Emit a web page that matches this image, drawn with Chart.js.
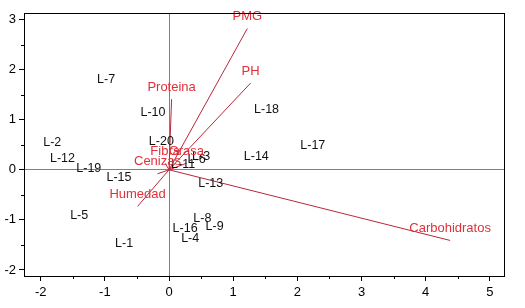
<!DOCTYPE html>
<html>
<head>
<meta charset="utf-8">
<script src="https://cdn.jsdelivr.net/npm/chart.js@4"></script>
<style>
  html, body { margin: 0; padding: 0; background: #fff; }
  #wrap { width: 525px; height: 308px; }
</style>
</head>
<body>
<div id="wrap"><canvas id="biplot"></canvas></div>
<script>
// Observaciones (lotes)
const lotes = ['L-1', 'L-2', 'L-3', 'L-4', 'L-5', 'L-6', 'L-7', 'L-8', 'L-9', 'L-10',
               'L-11', 'L-12', 'L-13', 'L-14', 'L-15', 'L-16', 'L-17', 'L-18', 'L-19', 'L-20'];
const loteX = [-0.70, -1.82, 0.50, 0.33, -1.40, 0.43, -0.98, 0.52, 0.71, -0.25,
               0.22, -1.66, 0.65, 1.36, -0.78, 0.25, 2.24, 1.52, -1.25, -0.12];
const loteY = [-1.48, 0.54, 0.27, -1.38, -0.92, 0.20, 1.81, -0.98, -1.13, 1.14,
               0.11, 0.23, -0.28, 0.26, -0.15, -1.18, 0.48, 1.20, 0.03, 0.56];

// Variables (vectores)
const variables = ['PMG', 'PH', 'Proteina', 'Fibra', 'Grasa', 'Cenizas', 'Humedad', 'Carbohidratos'];
const varX = [1.22, 1.27, 0.04, -0.06, 0.27, -0.18, -0.49, 4.38];
const varY = [2.82, 1.73, 1.41, 0.13, 0.13, -0.08, -0.73, -1.41];

// Ticks
const xTicks = [-2, -1.5, -1, -0.5, 0, 0.5, 1, 1.5, 2, 2.5, 3, 3.5, 4, 4.5, 5];
const yTicks = [-2, -1.5, -1, -0.5, 0, 0.5, 1, 1.5, 2, 2.5, 3];

const lineRed = '#b8263a';
const textRed = '#e0313a';
const font = 'Arial, "Liberation Sans", sans-serif';

const arrowSets = variables.map((v, i) => ({
  label: v,
  data: [{x: 0, y: 0}, {x: varX[i], y: varY[i]}],
  showLine: true,
  borderColor: lineRed,
  borderWidth: 1,
  pointRadius: 0,
  fill: false
}));

// Etiquetas de puntos y vectores, marco y ticks menores
const labelsPlugin = {
  id: 'labels',
  afterDatasetsDraw(chart) {
    const {ctx, scales: {x, y}, chartArea} = chart;
    ctx.save();
    ctx.textAlign = 'center';
    ctx.textBaseline = 'middle';
    ctx.font = '12.5px ' + font;
    ctx.fillStyle = '#111';
    lotes.forEach((l, i) => {
      ctx.fillText(l, x.getPixelForValue(loteX[i]), y.getPixelForValue(loteY[i]));
    });
    ctx.font = '13px ' + font;
    ctx.fillStyle = textRed;
    variables.forEach((v, i) => {
      ctx.fillText(v, x.getPixelForValue(varX[i]), y.getPixelForValue(varY[i]) - 12);
    });
    ctx.strokeStyle = '#000';
    ctx.lineWidth = 1;
    ctx.strokeRect(chartArea.left + 0.5, chartArea.top + 0.5,
                   chartArea.right - chartArea.left, chartArea.bottom - chartArea.top);
    // ticks menores (más cortos)
    ctx.beginPath();
    xTicks.filter(v => !Number.isInteger(v)).forEach(v => {
      const px = Math.round(x.getPixelForValue(v)) + 0.5;
      ctx.moveTo(px, chartArea.bottom);
      ctx.lineTo(px, chartArea.bottom + 3);
    });
    yTicks.filter(v => !Number.isInteger(v)).forEach(v => {
      const py = Math.round(y.getPixelForValue(v)) + 0.5;
      ctx.moveTo(chartArea.left, py);
      ctx.lineTo(chartArea.left - 3, py);
    });
    ctx.stroke();
    ctx.restore();
  }
};

const tickLabel = v => Number.isInteger(v) ? String(v) : '';
const zeroLine = c => (c.tick && c.tick.value === 0) ? '#808080' : 'rgba(0,0,0,0)';
const majorTick = c => (c.tick && Number.isInteger(c.tick.value)) ? '#000' : 'rgba(0,0,0,0)';

new Chart(document.getElementById('biplot'), {
  type: 'scatter',
  data: {
    datasets: [{
      label: 'Lotes',
      data: loteX.map((v, i) => ({x: v, y: loteY[i]})),
      pointRadius: 0
    }, ...arrowSets]
  },
  options: {
    responsive: true,
    maintainAspectRatio: false,
    animation: false,
    layout: { padding: { top: 13, right: 21, left: 0, bottom: 0 } },
    plugins: { legend: { display: false }, tooltip: { enabled: false } },
    scales: {
      x: {
        type: 'linear',
        min: -2.26,
        max: 5.22,
        afterBuildTicks: s => { s.ticks = xTicks.map(v => ({value: v})); },
        afterFit: s => { s.height = 32; },
        border: { display: true, color: '#000', width: 1 },
        grid: { color: zeroLine, lineWidth: 1, tickColor: majorTick, tickLength: 5 },
        ticks: { callback: tickLabel, color: '#000', padding: 4, maxRotation: 0,
                 autoSkip: false, font: { family: font, size: 13 } }
      },
      y: {
        type: 'linear',
        min: -2.12,
        max: 3.13,
        afterBuildTicks: s => { s.ticks = yTicks.map(v => ({value: v})); },
        afterFit: s => { s.width = 24; },
        border: { display: true, color: '#000', width: 1 },
        grid: { color: zeroLine, lineWidth: 1, tickColor: majorTick, tickLength: 5 },
        ticks: { callback: tickLabel, color: '#000', padding: 3,
                 autoSkip: false, font: { family: font, size: 13 } }
      }
    }
  },
  plugins: [labelsPlugin]
});
</script>
</body>
</html>
